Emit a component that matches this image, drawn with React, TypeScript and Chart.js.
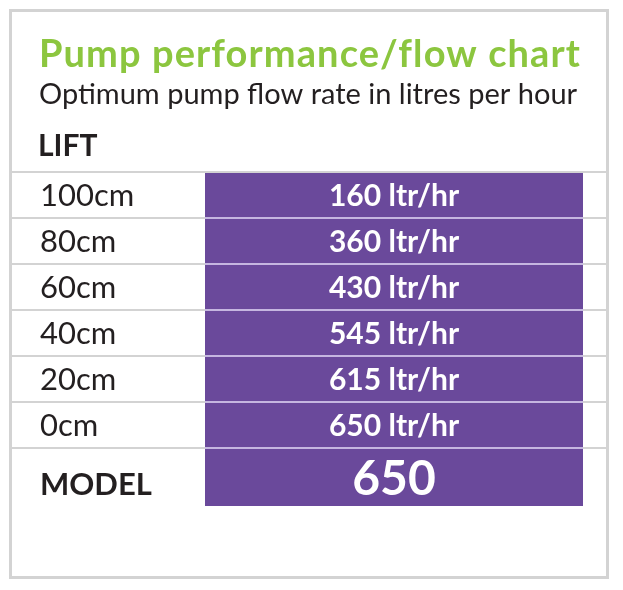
import React, { useEffect, useRef } from "react";
import { Chart, registerables } from "chart.js";

Chart.register(...registerables);

// ---- data ----
const titleText = "Pump performance/flow chart";
const subtitleText = "Optimum pump flow rate in litres per hour";
const liftHeader = "LIFT";
const lifts = ["100cm", "80cm", "60cm", "40cm", "20cm", "0cm"];
const flows = [160, 360, 430, 545, 615, 650];
const flowUnit = "ltr/hr";
const modelLabels = ["MODEL"];
const modelNames = ["650"];

// ---- styles ----
const PURPLE = "#6a499b";
const GREEN = "#8cc63f";
const INK = "#231f20";
const RULE = "#d3d3d3";
const RULE_ON_PURPLE = "#c5b6e0";
const FONT = "Lato, 'Open Sans', sans-serif";

const W = 623;
const H = 590;

function centerText(ctx: CanvasRenderingContext2D, text: string, x: number, yMid: number) {
  const m = ctx.measureText("0");
  const cap = m.actualBoundingBoxAscent;
  ctx.textAlign = "center";
  ctx.textBaseline = "alphabetic";
  ctx.fillText(text, x, yMid + cap / 2);
}

function makeChart(
  canvas: HTMLCanvasElement,
  labels: string[],
  texts: string[],
  opts: {
    padding: { top: number; bottom: number; left: number; right: number };
    tickFont: any;
    labelOffset: number;
    valueFont: string;
    rules: boolean;
    header: boolean;
  }
) {
  const rulesPlugin = {
    id: "rules",
    afterDatasetsDraw(chart: any) {
      if (!opts.rules) return;
      const { ctx, chartArea } = chart;
      const y = chart.scales.y;
      ctx.save();
      ctx.lineWidth = 2;
      for (let i = 0; i <= labels.length; i++) {
        const py = y.getPixelForValue(i - 0.5);
        ctx.strokeStyle = RULE;
        ctx.beginPath();
        ctx.moveTo(12, py);
        ctx.lineTo(606, py);
        ctx.stroke();
        if (i > 0) {
          ctx.strokeStyle = RULE_ON_PURPLE;
          ctx.beginPath();
          ctx.moveTo(chartArea.left, py);
          ctx.lineTo(chartArea.right, py);
          ctx.stroke();
        }
      }
      ctx.restore();
    },
  };

  const valuesPlugin = {
    id: "values",
    afterDatasetsDraw(chart: any) {
      const { ctx } = chart;
      const meta = chart.getDatasetMeta(0);
      ctx.save();
      ctx.fillStyle = "#ffffff";
      ctx.font = opts.valueFont;
      meta.data.forEach((bar: any, i: number) => {
        const cx = (bar.x + bar.base) / 2;
        centerText(ctx, texts[i], cx, bar.y);
      });
      ctx.restore();
    },
  };

  const headerPlugin = {
    id: "header",
    afterDraw(chart: any) {
      if (!opts.header) return;
      const { ctx } = chart;
      ctx.save();
      ctx.textAlign = "left";
      ctx.textBaseline = "alphabetic";
      ctx.fillStyle = GREEN;
      ctx.font = `bold 38px ${FONT}`;
      (ctx as any).letterSpacing = "1.1px";
      ctx.fillText(titleText, 39, 67);
      (ctx as any).letterSpacing = "0px";
      ctx.fillStyle = INK;
      ctx.font = `normal 29px ${FONT}`;
      ctx.fillText(subtitleText, 39, 104);
      ctx.font = `bold 30px ${FONT}`;
      ctx.fillText(liftHeader, 38, 156);
      ctx.restore();
    },
  };

  return new Chart(canvas, {
    type: "bar",
    data: {
      labels,
      datasets: [
        {
          data: labels.map(() => 1),
          backgroundColor: PURPLE,
          borderWidth: 0,
          barPercentage: 1,
          categoryPercentage: 1,
        },
      ],
    },
    options: {
      indexAxis: "y",
      responsive: false,
      animation: false,
      devicePixelRatio: 1,
      layout: { padding: opts.padding },
      plugins: {
        legend: { display: false },
        tooltip: { enabled: false },
        title: { display: false },
      },
      scales: {
        x: { display: false, min: 0, max: 1 },
        y: {
          type: "category",
          grid: { display: false },
          border: { display: false },
          ticks: {
            color: INK,
            font: opts.tickFont,
            crossAlign: "far",
            padding: 0,
            labelOffset: opts.labelOffset,
          },
          afterFit: (scale: any) => {
            scale.width = 205 - opts.padding.left;
          },
        },
      },
    },
    plugins: [rulesPlugin, valuesPlugin, headerPlugin],
  } as any);
}

export default function App() {
  const liftRef = useRef<HTMLCanvasElement>(null);
  const modelRef = useRef<HTMLCanvasElement>(null);

  useEffect(() => {
    const a = makeChart(
      liftRef.current!,
      lifts,
      flows.map((f) => `${f} ${flowUnit}`),
      {
        padding: { top: 172, bottom: H - 448, left: 40, right: W - 583 },
        tickFont: { family: FONT, size: 31, weight: "normal" },
        labelOffset: 1,
        valueFont: `bold 30px ${FONT}`,
        rules: true,
        header: true,
      }
    );
    const b = makeChart(modelRef.current!, modelLabels, modelNames, {
      padding: { top: 449 - 420, bottom: 540 - 506, left: 40, right: W - 583 },
      tickFont: { family: FONT, size: 31, weight: "bold" },
      labelOffset: 7,
      valueFont: `bold 48px ${FONT}`,
      rules: false,
      header: false,
    });
    return () => {
      a.destroy();
      b.destroy();
    };
  }, []);

  return (
    <div style={{ position: "absolute", left: 0, top: 0, width: W, height: H, background: "#fff" }}>
      <div
        style={{
          position: "absolute",
          left: 9,
          top: 9,
          width: 600,
          height: 570,
          border: `3px solid ${RULE}`,
          boxSizing: "border-box",
        }}
      />
      <canvas
        ref={liftRef}
        width={W}
        height={H}
        style={{ position: "absolute", left: 0, top: 0, width: W, height: H }}
      />
      <canvas
        ref={modelRef}
        width={W}
        height={120}
        style={{ position: "absolute", left: 0, top: 420, width: W, height: 120 }}
      />
    </div>
  );
}
